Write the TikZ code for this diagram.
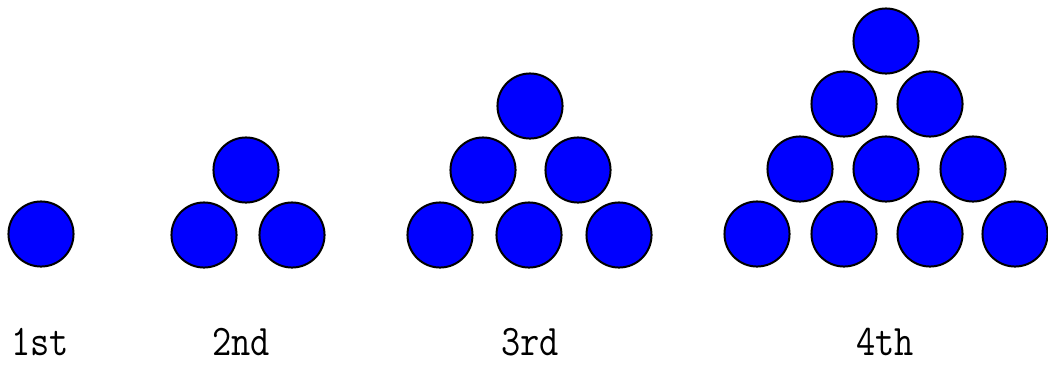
\documentclass[tikz,border=0pt]{standalone}
\definecolor{ballblue}{HTML}{0000FF}
\newcommand{\tallrank}[1]{\scalebox{1}[1.17]{#1}}

\begin{document}
\begin{tikzpicture}[
  x=0.75pt,
  y=-0.75pt,
  ball/.style={draw=black,fill=ballblue,line width=1.5pt},
  rank/.style={font=\ttfamily\fontsize{28}{28}\selectfont,inner sep=0pt,anchor=base}
]
  % Match the pixel frame of the artwork.
  \useasboundingbox (0,0) rectangle (1048,365);

  % 1st triangle: a single ball.
  \coordinate (a1) at (41,234);

  % 2nd triangle.
  \coordinate (b1) at (204,235);
  \coordinate (b2) at (292,235);
  \coordinate (b3) at (246,170);

  % 3rd triangle.
  \coordinate (c1) at (440,235);
  \coordinate (c2) at (529,235);
  \coordinate (c3) at (619,235);
  \coordinate (c4) at (483,170);
  \coordinate (c5) at (578,170);
  \coordinate (c6) at (530,106);

  % 4th triangle.
  \coordinate (d1) at (757,234);
  \coordinate (d2) at (844,234);
  \coordinate (d3) at (930,234);
  \coordinate (d4) at (1015,234);
  \coordinate (d5) at (800,169);
  \coordinate (d6) at (886,169);
  \coordinate (d7) at (973,169);
  \coordinate (d8) at (844,104);
  \coordinate (d9) at (930,104);
  \coordinate (d10) at (886,41);

  \foreach \p in {a1,b1,b2,b3,c1,c2,c3,c4,c5,c6,d1,d2,d3,d4,d5,d6,d7,d8,d9,d10} {
    \draw[ball] (\p) circle[radius=24.4pt];
  }

  % Ordinal labels under each triangle.
  \node[rank] (first) at (40,355) {\tallrank{1st}};
  \node[rank] (second) at (241,355) {\tallrank{2nd}};
  \node[rank] (third) at (530,355) {\tallrank{3rd}};
  \node[rank] (fourth) at (885,355) {\tallrank{4th}};
\end{tikzpicture}
\end{document}
